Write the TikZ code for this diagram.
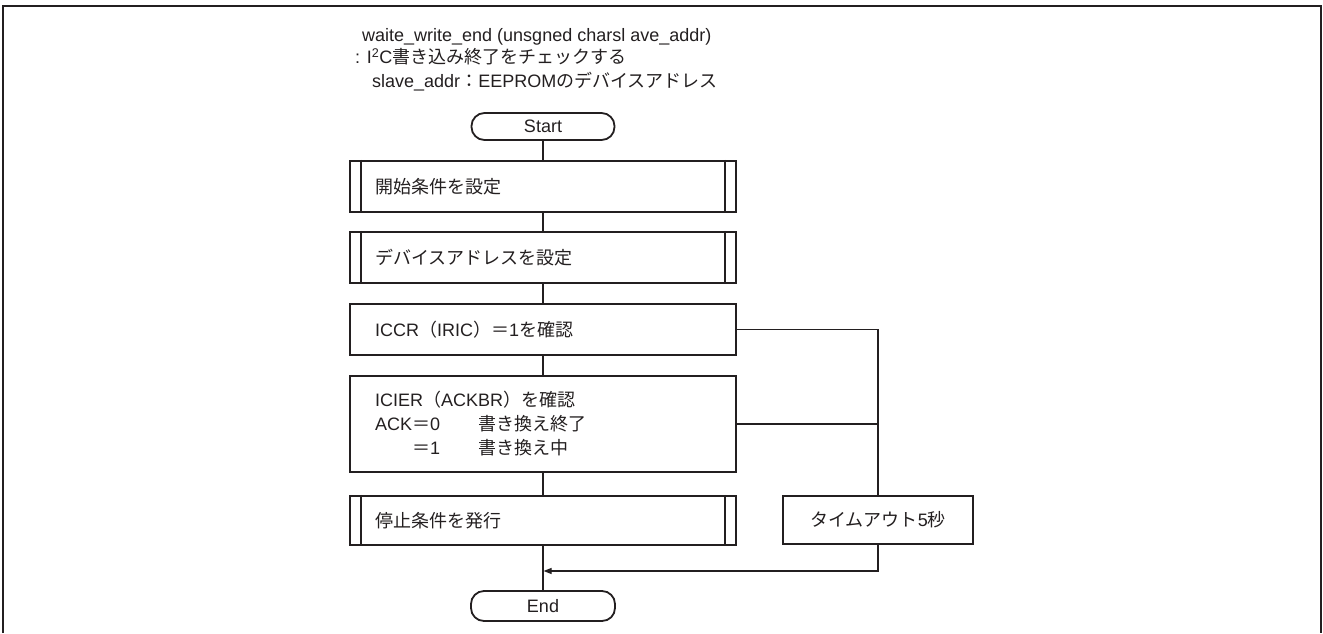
\documentclass[tikz,border=0pt]{standalone}
\usepackage{fontspec}
\setmainfont{Liberation Sans}
\newfontfamily\cjk{Noto Sans CJK JP}
\usetikzlibrary{arrows.meta}
\newcommand\jtext[1]{{\cjk #1}}
\definecolor{ink}{RGB}{35,31,32}
\begin{document}
\begin{tikzpicture}[x=1pt,y=-1pt,
  every node/.style={font=\fontsize{18}{24}\selectfont, text=ink},
  proc/.style={draw=ink, line width=2.4pt, minimum height=51pt, text width=336pt, inner xsep=25pt, inner ysep=0pt, align=left},
  term/.style={draw=ink, line width=1.8pt, rounded corners=13pt, minimum width=143pt, minimum height=28pt, inner sep=0pt},
  conn/.style={draw=ink, line width=1.1pt},
  subline/.style={draw=ink, line width=2pt},
  hdr/.style={anchor=base west, inner sep=0pt}]
\useasboundingbox (0,0) rectangle (1323,633);
\draw[ink, line width=2pt] (3,633) -- (3,6) -- (1321,6) -- (1321,633);

% header
\node[hdr] (h1) at (362,41.7) {waite\_write\_end (unsgned charsl ave\_addr)};
\node[hdr] (h2) at (355,63.3) {: I\textsuperscript{2}C\jtext{書き込み終了をチェックする}};
\node[hdr] (h3) at (372,87.3) {slave\_addr\jtext{：}EEPROM\jtext{のデバイスアドレス}};

% nodes
\node[term, minimum height=27pt] (start) at (543,126.5) {Start};
\node[proc] (b1) at (543,186.5) {\jtext{開始条件を設定}};
\node[proc] (b2) at (543,257.5) {\jtext{デバイスアドレスを設定}};
\node[proc] (b3) at (543,329.5) {ICCR\jtext{（}IRIC\jtext{）＝}1\jtext{を確認}};
\node[proc, minimum height=96pt] (b4) at (543,424) {ICIER\jtext{（}ACKBR\jtext{）を確認}\\
\makebox[103pt][l]{ACK\jtext{＝}0}\jtext{書き換え終了}\\
\hspace*{37pt}\makebox[66pt][l]{\jtext{＝}1}\jtext{書き換え中}};
\node[proc, minimum height=49pt] (b5) at (543,520.5) {\jtext{停止条件を発行}};
\node[draw=ink, line width=2.4pt, minimum width=190pt, minimum height=48pt, inner sep=0pt] (tout) at (878,520) {\jtext{タイムアウト}5\jtext{秒}};
\node[term, minimum height=30pt, minimum width=144pt] (end) at (543,606) {End};

% subroutine side bars
\foreach \n in {b1,b2,b5}{
  \draw[subline] ([xshift=12pt]\n.north west) -- ([xshift=12pt]\n.south west);
  \draw[subline] ([xshift=-12pt]\n.north east) -- ([xshift=-12pt]\n.south east);
}

% connectors
\draw[conn] (start.south) -- (b1.north);
\draw[conn] (b1.south) -- (b2.north);
\draw[conn] (b2.south) -- (b3.north);
\draw[conn] (b3.south) -- (b4.north);
\draw[conn] (b4.south) -- (b5.north);
\draw[conn] (b5.south) -- (end.north);
\draw[conn] (b3.east) -| (tout.north);
\draw[conn] (b4.east) -- (b4.east -| tout.north);
\coordinate (m) at (543.6,571);
\draw[conn, -{Triangle[length=8pt,width=6pt]}] (tout.south) |- (m);
\end{tikzpicture}
\end{document}
